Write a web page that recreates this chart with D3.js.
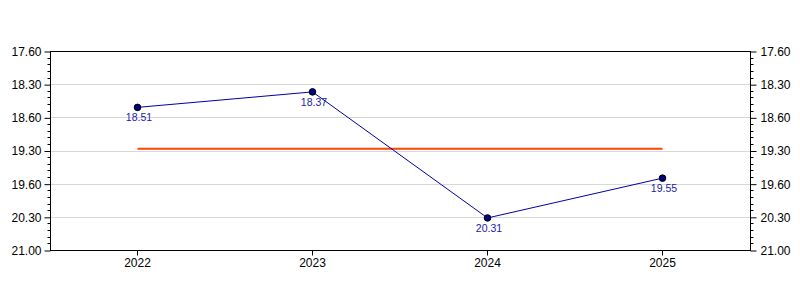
<!DOCTYPE html>
<html>
<head>
<meta charset="utf-8">
<script src="https://cdn.jsdelivr.net/npm/d3@7"></script>
<style>
  body { margin: 0; background: #fff; }
  svg { display: block; font-family: "Liberation Sans", Arial, sans-serif; }
</style>
</head>
<body>
<svg id="chart" width="800" height="300"></svg>
<script>
// categories (years)
var years = ["2022", "2023", "2024", "2025"];
// times in seconds (18.51 = 18 min 51 s)
var seconds = [1131, 1117, 1231, 1195];
var pointLabels = ["18.51", "18.37", "20.31", "19.55"];
// average line (seconds)
var average = 1168.5;
// y ticks (seconds) and the labels the chart prints for them
var tickValues = [1080, 1110, 1140, 1170, 1200, 1230, 1260];
var tickLabels = ["17.60", "18.30", "18.60", "19.30", "19.60", "20.30", "21.00"];

var svg = d3.select("#chart");
var plotLeft = 50, plotRight = 750, plotTop = 51, plotBottom = 250;

var x = d3.scaleBand().domain(years).range([plotLeft, plotRight]);
var y = d3.scaleLinear().domain([1080, 1260]).range([plotTop, plotBottom]);

// grid lines
svg.append("g").selectAll("line")
  .data(tickValues.slice(1, -1))
  .enter().append("line")
  .attr("x1", plotLeft).attr("x2", plotRight)
  .attr("y1", function(d) { return Math.round(y(d)) + 0.5; })
  .attr("y2", function(d) { return Math.round(y(d)) + 0.5; })
  .attr("stroke", "#d8d8d8");

// minor ticks every 6 s
var minor = d3.range(1080, 1261, 6).filter(function(d) { return tickValues.indexOf(d) < 0; });

function yAxis(g, axisFn, side) {
  g.call(axisFn(y).tickValues(tickValues).tickSize(6).tickPadding(side < 0 ? 3 : 4)
    .tickFormat(function(d, i) { return tickLabels[i]; }));
  g.select(".domain").remove();
  g.selectAll("text").attr("font-size", 12).attr("fill", "#000").attr("font-family", "Liberation Sans, Arial, sans-serif");
  g.selectAll("line").attr("stroke", "#000");
  g.selectAll(".minor").data(minor).enter().append("line")
    .attr("class", "minor")
    .attr("x1", 0).attr("x2", side * 3)
    .attr("y1", function(d) { return Math.round(y(d)); })
    .attr("y2", function(d) { return Math.round(y(d)); })
    .attr("stroke", "#000");
}

svg.append("g").attr("transform", "translate(" + (plotLeft + 0.5) + ",0.5)")
  .call(yAxis, d3.axisLeft, -1);
svg.append("g").attr("transform", "translate(" + (plotRight + 0.5) + ",0.5)")
  .call(yAxis, d3.axisRight, 1);

// x axis
var xg = svg.append("g").attr("transform", "translate(0," + (plotBottom + 0.5) + ")")
  .call(d3.axisBottom(x).tickSize(5).tickPadding(3).tickSizeOuter(0));
xg.select(".domain").remove();
xg.selectAll("text").attr("font-size", 12).attr("fill", "#000").attr("font-family", "Liberation Sans, Arial, sans-serif");
xg.selectAll("line").attr("stroke", "#000");

// frame
svg.append("rect")
  .attr("x", plotLeft + 0.5).attr("y", plotTop + 0.5)
  .attr("width", plotRight - plotLeft).attr("height", plotBottom - plotTop)
  .attr("fill", "none").attr("stroke", "#000");

var cx = function(d, i) { return x(years[i]) + x.bandwidth() / 2; };

// average line
svg.append("line")
  .attr("x1", x(years[0]) + x.bandwidth() / 2)
  .attr("x2", x(years[years.length - 1]) + x.bandwidth() / 2)
  .attr("y1", y(average)).attr("y2", y(average))
  .attr("stroke", "#ff4500").attr("stroke-width", 2);

// series line
var line = d3.line()
  .x(function(d, i) { return cx(d, i); })
  .y(function(d) { return y(d); });

svg.append("path").datum(seconds)
  .attr("d", line)
  .attr("fill", "none")
  .attr("stroke", "#0000aa")
  .attr("stroke-width", 1);

svg.append("g").selectAll("circle")
  .data(seconds).enter().append("circle")
  .attr("cx", cx)
  .attr("cy", function(d) { return y(d); })
  .attr("r", 3.3)
  .attr("fill", "#000080")
  .attr("stroke", "#000")
  .attr("stroke-width", 1);

svg.append("g").selectAll("text")
  .data(seconds).enter().append("text")
  .attr("x", function(d, i) { return cx(d, i) + 1.5; })
  .attr("y", function(d) { return y(d) + 14; })
  .attr("text-anchor", "middle")
  .attr("font-size", 10.5)
  .attr("fill", "#1a1aa6")
  .text(function(d, i) { return pointLabels[i]; });
</script>
</body>
</html>
